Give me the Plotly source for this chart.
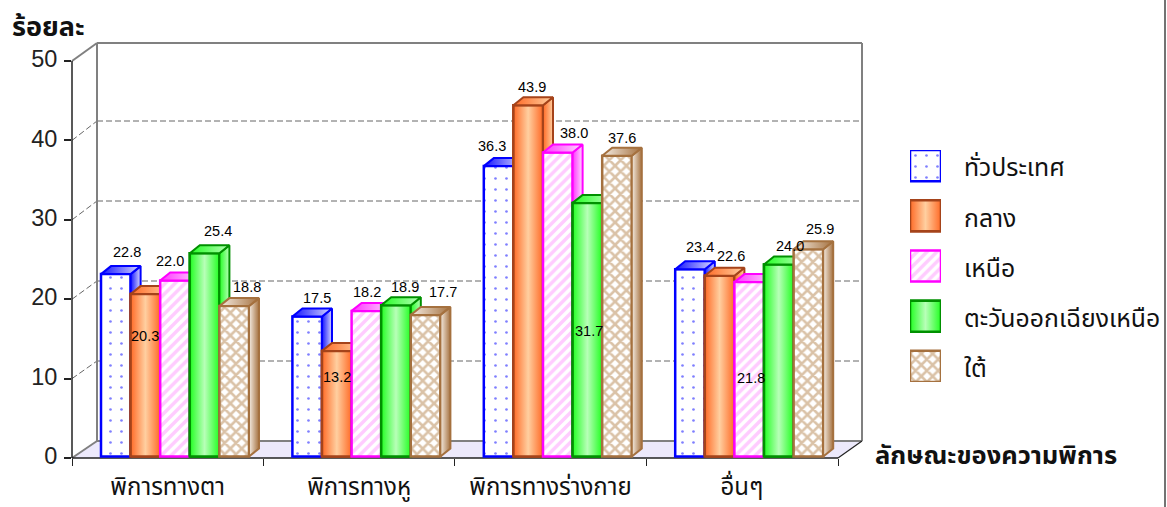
import plotly.graph_objects as go

categories = ["พิการทางตา", "พิการทางหู", "พิการทางร่างกาย", "อื่นๆ"]
series_names = ["ทั่วประเทศ", "กลาง", "เหนือ", "ตะวันออกเฉียงเหนือ", "ใต้"]
national = [22.8, 17.5, 36.3, 23.4]
central = [20.3, 13.2, 43.9, 22.6]
north = [22.0, 18.2, 38.0, 21.8]
northeast = [25.4, 18.9, 31.7, 24.0]
south = [18.8, 17.7, 37.6, 25.9]
y_ticks = [0, 10, 20, 30, 40, 50]
series_values = [national, central, north, northeast, south]

# ---------- layout constants (pixels of the 1167x507 page) ----------
W, H = 1167, 507
FX0, FX1 = 72, 875      # plot area x
FY0, FY1 = 458, 30      # plot area y
GROUP_PX = 191.4
BAR_PX = 29.6
BAR_OFF_PX = 29
DX_PX, DY_PX = 10, 8
FRONT_SCALE = 7.94
BAR_SCALE = 8.0
BAR_ZERO_PX = 456.5
FONT_NUM = "Liberation Sans, Arial, sans-serif"
FONT_TH = "Noto Sans Thai, Loma, Garuda, Noto Sans, DejaVu Sans, sans-serif"

px = lambda v: (v - FX0) / GROUP_PX
paper_x = lambda v: v / W
paper_y = lambda v: 1 - v / H

styles = [
    dict(line="#0000FF", grad=["#1414FF", "#D8D8FF"], pattern=dict(shape=".", fgcolor="#0000FF", bgcolor="white", size=11, solidity=0.045)),
    dict(line="#A5431A", grad=["#FF6A26", "#FFCFA0", "#FF6A26"], front="#FFB080"),
    dict(line="#FF00FF", grad=["#FF33FF", "#FFD8FF"], pattern=dict(shape="/", fgcolor="#FF99FF", bgcolor="white", size=7, solidity=0.5)),
    dict(line="#009000", grad=["#22FF22", "#B8FFB8", "#22FF22"], front="#80FF80"),
    dict(line="#A5713F", grad=["#F5EDE4", "#A5713F"], pattern=dict(shape="x", fgcolor="#B5854F", bgcolor="white", size=8, solidity=0.55)),
]

label_dx = [[11, 10, -7, 10], [0, 0, 4, 11], [-5, 1, 16, 2], [13, 9, 2, 11], [13, 17, 5, 12]]
label_dy = [[22, 19, 20, 22], [-42, -26, 18, 20], [20, 19, 20, -96], [22, 18, -128, 19], [19, 23, 18, 20]]

fig = go.Figure()

# anchor for the front axes
fig.add_trace(go.Scatter(x=[0], y=[0], mode="markers", marker=dict(opacity=0), hoverinfo="skip", showlegend=False))

gradient = lambda cols: dict(type="horizontal", colorscale=[[i / (len(cols) - 1), c] for i, c in enumerate(cols)])
dx_u = DX_PX / GROUP_PX
dy_u = DY_PX / BAR_SCALE
bw_u = BAR_PX / GROUP_PX
annotations = []

for s, (name, vals, st) in enumerate(zip(series_names, series_values, styles)):
    ya = f"y{s + 2}"
    centers = [g + BAR_OFF_PX / GROUP_PX + (s + 0.5) * bw_u for g in range(len(categories))]
    marker = dict(color=st.get("front", "white"), line=dict(color=st["line"], width=2.5))
    if "pattern" in st:
        marker["pattern"] = st["pattern"]
    fig.add_trace(go.Bar(x=centers, y=vals, width=bw_u, name=name, marker=marker, xaxis="x", yaxis=ya,
                         showlegend=False, hovertemplate="%{y}<extra>" + name + "</extra>"))
    for g, (c, v) in enumerate(zip(centers, vals)):
        L, R = c - bw_u / 2, c + bw_u / 2
        if "front" in st:
            fig.add_trace(go.Scatter(x=[L, R, R, L, L], y=[0, 0, v, v, 0], fill="toself", mode="lines",
                                     line=dict(color=st["line"], width=2.5), fillgradient=gradient(st["grad"]),
                                     xaxis="x", yaxis=ya, hoverinfo="skip", showlegend=False))
        fig.add_trace(go.Scatter(x=[R, R + dx_u, R + dx_u, R, R], y=[0, dy_u, v + dy_u, v, 0], fill="toself", mode="lines",
                                 line=dict(color=st["line"], width=2), fillgradient=gradient(st["grad"][:2]),
                                 xaxis="x", yaxis=ya, hoverinfo="skip", showlegend=False))
        fig.add_trace(go.Scatter(x=[L, L + dx_u, R + dx_u, R, L], y=[v, v + dy_u, v + dy_u, v, v], fill="toself", mode="lines",
                                 line=dict(color=st["line"], width=2), fillgradient=gradient(st["grad"][:2]),
                                 xaxis="x", yaxis=ya, hoverinfo="skip", showlegend=False))
        annotations.append(dict(x=c, y=v, xref="x", yref=ya, text=f"{v:.1f}", showarrow=False, xshift=label_dx[s][g],
                                yshift=label_dy[s][g], font=dict(family=FONT_NUM, size=14.5, color="black")))

# ---------- legend swatches on their own little axes ----------
LEG_X0, LEG_X1 = 910, 941
LEG_Y0, LEG_Y1 = 150, 382
LEG_STEP = 50
for s, (name, st) in enumerate(zip(series_names, styles)):
    slot = len(series_names) - 1 - s
    marker = dict(color=st.get("front", "white"), line=dict(color=st["line"], width=2.5))
    if "pattern" in st:
        marker["pattern"] = st["pattern"]
    fig.add_trace(go.Bar(x=[0.5], y=[31], base=[slot * LEG_STEP], width=[1], marker=marker, xaxis="x7", yaxis="y7",
                         name=name, showlegend=False, hoverinfo="skip"))
    if "front" in st:
        b = slot * LEG_STEP
        fig.add_trace(go.Scatter(x=[0, 1, 1, 0, 0], y=[b, b, b + 31, b + 31, b], fill="toself", mode="lines",
                                 line=dict(color=st["line"], width=2.5), fillgradient=gradient(st["grad"]),
                                 xaxis="x7", yaxis="y7", hoverinfo="skip", showlegend=False))
    annotations.append(dict(x=paper_x(962), y=paper_y(169 + s * LEG_STEP), xref="paper", yref="paper", xanchor="left",
                            yanchor="middle", text=name, showarrow=False, font=dict(family=FONT_TH, size=24.8, color="#111")))

# ---------- walls, floor and grid ----------
BX0, BX1, BY_TOP, BY_BOT = 97, 862, 43, 441
FR_TOP, FR_BOT, FR_R = 61, 458, 838
shapes = []


def seg(x0, y0, x1, y1, color="#808080", width=2, dash="solid", layer="below"):
    shapes.append(dict(type="line", xref="paper", yref="paper", x0=paper_x(x0), y0=paper_y(y0), x1=paper_x(x1),
                       y1=paper_y(y1), line=dict(color=color, width=width, dash=dash), layer=layer))


shapes.append(dict(type="path", xref="paper", yref="paper", layer="below", fillcolor="#ECE9FB", line=dict(width=0),
                   path=f"M{paper_x(FX0)},{paper_y(FR_BOT)} L{paper_x(BX0)},{paper_y(BY_BOT)} L{paper_x(BX1)},{paper_y(BY_BOT)} L{paper_x(FR_R)},{paper_y(FR_BOT)} Z"))
for t in y_ticks[1:-1]:
    fy = FR_BOT - t * FRONT_SCALE
    by = BY_BOT - t * BAR_SCALE
    seg(FX0, fy, BX0, by, color="#666666", width=1, dash="6px,3px")
    seg(BX0, by, BX1, by, color="#666666", width=1, dash="6px,3px")
seg(BX0, BY_TOP, BX1, BY_TOP)
seg(BX0, BY_TOP, BX0, BY_BOT)
seg(BX1, BY_TOP, BX1, BY_BOT)
seg(BX0, BY_BOT, BX1, BY_BOT)
seg(FX0, FR_BOT, BX0, BY_BOT)
seg(FX0, FR_TOP, BX0, BY_TOP)
seg(FX0, FR_TOP, FX0, FR_BOT, color="#222222", width=1.5)
seg(FX0, FR_BOT, FR_R, FR_BOT, color="#222222", width=1.5)
seg(FR_R, FR_BOT, BX1, BY_BOT, color="#222222", width=1.2)
seg(1165, 0, 1165, H, color="#444444", width=1.5, layer="above")

annotations.append(dict(x=paper_x(10), y=paper_y(28), xref="paper", yref="paper", xanchor="left", yanchor="middle",
                        text="<b>ร้อยละ</b>", showarrow=False, font=dict(family=FONT_TH, size=27, color="#111")))
annotations.append(dict(x=paper_x(873), y=paper_y(456), xref="paper", yref="paper", xanchor="left", yanchor="middle",
                        text="<b>ลักษณะของความพิการ</b>", showarrow=False, font=dict(family=FONT_TH, size=25.5, color="#111")))

layout = dict(
    width=W, height=H, showlegend=False, paper_bgcolor="white", plot_bgcolor="rgba(0,0,0,0)",
    margin=dict(l=0, r=0, t=0, b=0, pad=0),
    barmode="overlay", shapes=shapes, annotations=annotations,
    xaxis=dict(domain=[paper_x(FX0), paper_x(FX1)], range=[0, px(FX1)], tickmode="array", automargin=False,
               tickvals=[i + 0.5 for i in range(len(categories))],
               ticktext=categories, ticks="", showgrid=False, zeroline=False, showline=False,
               tickfont=dict(family=FONT_TH, size=24, color="#111"), ticklabelstandoff=12,
               minor=dict(tickmode="array", tickvals=[px(FX0 + i * GROUP_PX) for i in range(4)] + [px(FR_R)], ticks="outside",
                          ticklen=7, tickwidth=1.2, tickcolor="#222222", showgrid=False)),
    yaxis=dict(domain=[paper_y(FY0), paper_y(FY1)], range=[0, (FY0 - FY1) / FRONT_SCALE], tickmode="array", tickvals=y_ticks,
               ticks="outside", ticklen=7, tickwidth=1.5, tickcolor="#222222", showgrid=False, zeroline=False, showline=False,
               automargin=False, ticklabelstandoff=2, ticklabelshift=-2, tickfont=dict(family=FONT_NUM, size=23.5, color="#222")),
    xaxis7=dict(domain=[paper_x(LEG_X0), paper_x(LEG_X1)], range=[0, 1], visible=False, anchor="y7", automargin=False),
    yaxis7=dict(domain=[paper_y(LEG_Y1), paper_y(LEG_Y0)], range=[0, 231], visible=False, anchor="x7", automargin=False),
)
bar_range = [(BAR_ZERO_PX - FY0) / BAR_SCALE, (BAR_ZERO_PX - FY1) / BAR_SCALE]
for k in range(2, 7):
    layout[f"yaxis{k}"] = dict(range=bar_range, overlaying="y", visible=False, anchor="x", automargin=False)
fig.update_layout(**layout)

fig.write_html("out.html", post_script="document.body.style.margin='0';", config=dict(displayModeBar=False))
